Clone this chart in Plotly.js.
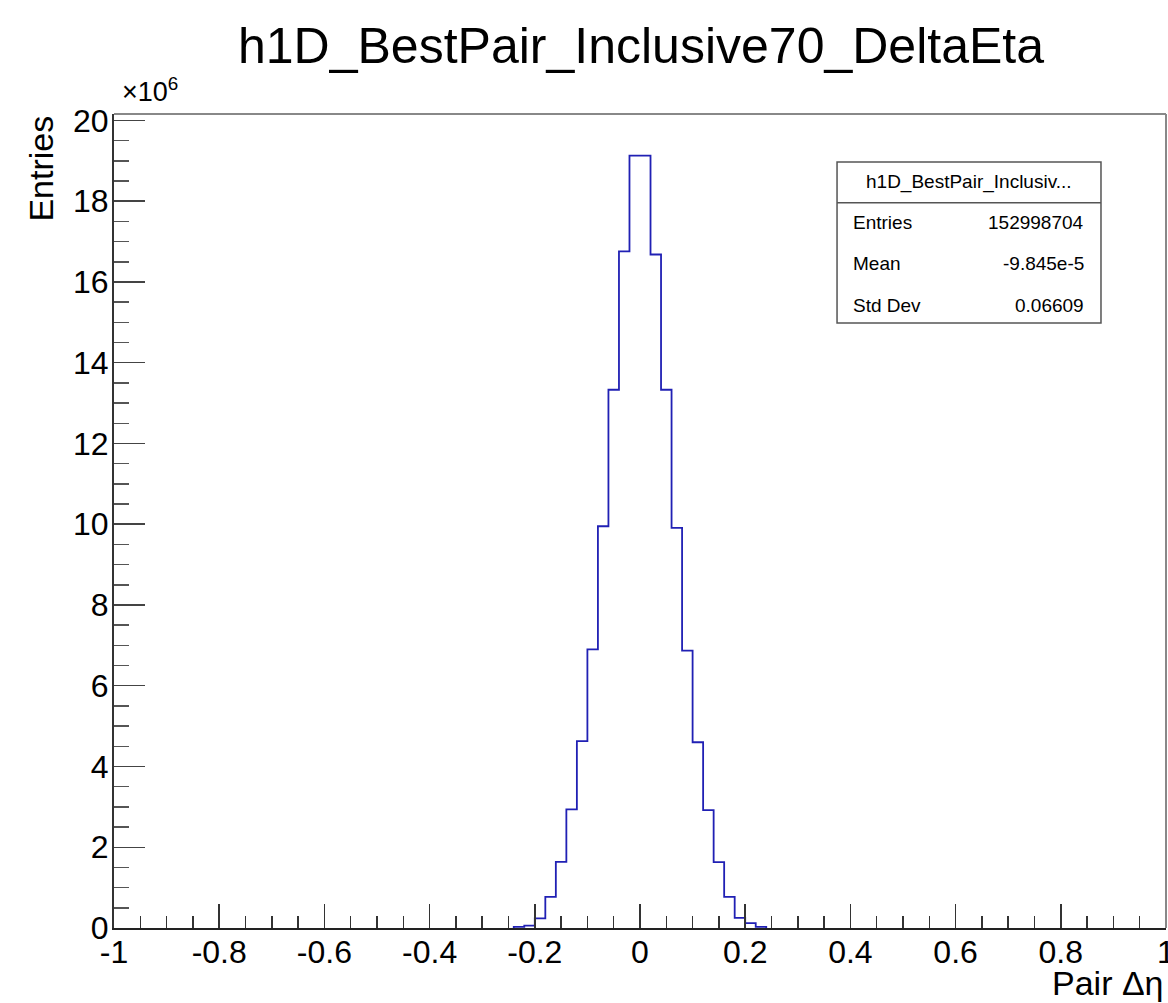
<!DOCTYPE html>
<html>
<head>
<meta charset="utf-8">
<script src="https://cdn.plot.ly/plotly-3.0.1.min.js"></script>
<style>
  html, body { margin: 0; padding: 0; background: #fff; }
  #chart { width: 1168px; height: 1003px; }
</style>
</head>
<body>
<div id="chart"></div>
<script>
// Bin edges (Pair Δη), 0.02 wide; only non-empty region listed
var binEdges = [-0.24, -0.22, -0.20, -0.18, -0.16, -0.14, -0.12, -0.10, -0.08, -0.06, -0.04, -0.02,
                0.00, 0.02, 0.04, 0.06, 0.08, 0.10, 0.12, 0.14, 0.16, 0.18, 0.20, 0.22, 0.24];
// Entries per bin, in units of 10^6
var countsMillions = [0.03, 0.06, 0.24, 0.77, 1.64, 2.94, 4.63, 6.90, 9.95, 13.33, 16.76, 19.13,
                      19.13, 16.68, 13.33, 9.91, 6.87, 4.60, 2.92, 1.63, 0.77, 0.25, 0.12, 0.03];

var xTickVals = [-1, -0.8, -0.6, -0.4, -0.2, 0, 0.2, 0.4, 0.6, 0.8, 1];
var xTickLabels = ["-1", "-0.8", "-0.6", "-0.4", "-0.2", "0", "0.2", "0.4", "0.6", "0.8", "1"];
var yTickVals = [0, 2, 4, 6, 8, 10, 12, 14, 16, 18, 20];
var yTickLabels = ["0", "2", "4", "6", "8", "10", "12", "14", "16", "18", "20"];

var statsTitle = "h1D_BestPair_Inclusiv...";
var statsNames = ["Entries", "Mean", "Std Dev"];
var statsValues = ["152998704", "-9.845e-5", "0.06609"];

// step outline points
var xs = [binEdges[0]], ys = [0];
for (var i = 0; i < countsMillions.length; i++) { xs.push(binEdges[i]); ys.push(countsMillions[i]); }
xs.push(binEdges[binEdges.length - 1]); ys.push(0);

var FONT = "Liberation Sans, Arial, Helvetica, sans-serif";

var trace = {
  x: xs, y: ys, type: "scatter", mode: "lines",
  line: { shape: "hv", color: "#2020b4", width: 1.8 },
  hoverinfo: "skip", showlegend: false
};

var statsY = [0.8669, 0.8165, 0.7650];
var annotations = [
  { text: "×10<sup>6</sup>", xref: "paper", yref: "paper", x: 0.006, y: 1.006, xanchor: "left", yanchor: "bottom",
    showarrow: false, font: { family: FONT, size: 27, color: "#000" } },
  { text: "Entries", xref: "paper", yref: "paper", x: -0.0703, y: 0.933, xanchor: "center", yanchor: "middle",
    textangle: -90, showarrow: false, font: { family: FONT, size: 34, color: "#000" } },
  { text: "Pair Δη", xref: "paper", yref: "paper", x: 1.0, y: -0.067, xanchor: "right", yanchor: "middle",
    showarrow: false, font: { family: FONT, size: 34, color: "#000" } },
  { text: statsTitle, xref: "paper", yref: "paper", x: 0.8127, y: 0.9166, xanchor: "center", yanchor: "middle",
    showarrow: false, font: { family: FONT, size: 19, color: "#000" } }
];
for (var k = 0; k < statsNames.length; k++) {
  annotations.push({ text: statsNames[k], xref: "paper", yref: "paper", x: 0.701, y: statsY[k],
    xanchor: "left", yanchor: "middle", showarrow: false, font: { family: FONT, size: 19, color: "#000" } });
  annotations.push({ text: statsValues[k], xref: "paper", yref: "paper", x: 0.9243, y: statsY[k],
    xanchor: "right", yanchor: "middle", showarrow: false, font: { family: FONT, size: 19, color: "#000" } });
}

var layout = {
  width: 1168, height: 1003,
  margin: { l: 114, r: 2, t: 113.5, b: 74.7 },
  paper_bgcolor: "#fff", plot_bgcolor: "#fff",
  title: { text: "h1D_BestPair_Inclusive70_DeltaEta", x: 641 / 1168, xref: "container", xanchor: "center",
           y: 1 - 45 / 1003, yref: "container", yanchor: "middle",
           font: { family: FONT, size: 50, color: "#000" } },
  xaxis: {
    range: [-1, 1], showgrid: false, zeroline: false,
    showline: true, linecolor: "#222", linewidth: 2,
    tickmode: "array", tickvals: xTickVals, ticktext: xTickLabels,
    ticks: "inside", ticklen: 24, tickwidth: 1.5, tickcolor: "#333",
    ticklabelstandoff: -5, ticklabeloverflow: "allow",
    tickfont: { family: FONT, size: 32, color: "#000" },
    minor: { tickmode: "linear", tick0: -1, dtick: 0.05, ticks: "inside", ticklen: 12, tickwidth: 1.5, tickcolor: "#333", showgrid: false }
  },
  yaxis: {
    range: [0, 20.16], showgrid: false, zeroline: false,
    showline: true, linecolor: "#333", linewidth: 2,
    tickmode: "array", tickvals: yTickVals, ticktext: yTickLabels,
    ticks: "inside", ticklen: 31, tickwidth: 1.5, tickcolor: "#444",
    ticklabelstandoff: -3, ticklabeloverflow: "allow",
    tickfont: { family: FONT, size: 32, color: "#000" },
    minor: { tickmode: "linear", tick0: 0, dtick: 0.5, ticks: "inside", ticklen: 15, tickwidth: 1.5, tickcolor: "#555", showgrid: false }
  },
  shapes: [
    { type: "line", xref: "paper", yref: "paper", x0: 0, x1: 1, y0: 1, y1: 1, line: { color: "#888", width: 2 } },
    { type: "line", xref: "paper", yref: "paper", x0: 1, x1: 1, y0: 0, y1: 1, line: { color: "#888", width: 2 } },
    { type: "rect", xref: "paper", yref: "paper", x0: 0.6873, x1: 0.9382, y0: 0.7433, y1: 0.9409,
      line: { color: "#555", width: 1.5 }, fillcolor: "rgba(255,255,255,1)" },
    { type: "line", xref: "paper", yref: "paper", x0: 0.6873, x1: 0.9382, y0: 0.8910, y1: 0.8910,
      line: { color: "#555", width: 1.5 } }
  ],
  annotations: annotations
};

Plotly.newPlot("chart", [trace], layout, { displayModeBar: false, staticPlot: true });
</script>
</body>
</html>
